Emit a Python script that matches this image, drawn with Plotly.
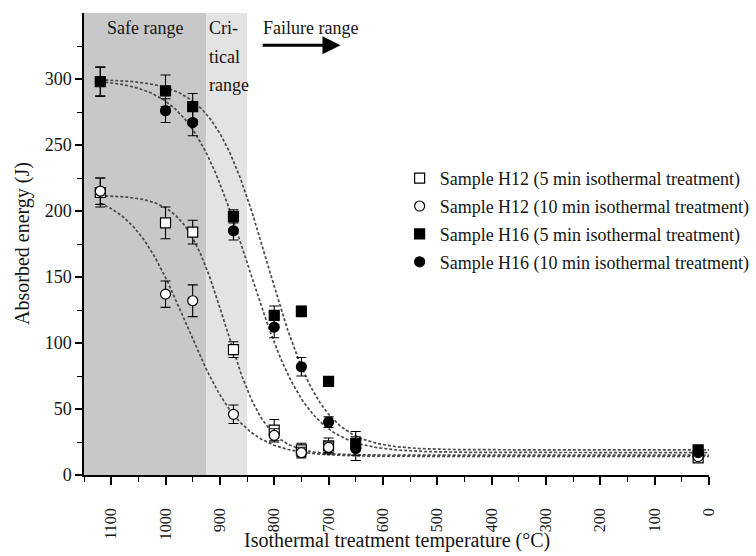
import numpy as np
import plotly.graph_objects as go

# Isothermal treatment temperatures (°C)
temps = [1120, 1000, 950, 875, 800, 750, 700, 650, 20]
temps_h12 = [1120, 1000, 950, 875, 800, 750, 700, 20]

# Absorbed energy (J) and error bars
h12_5_vals = [214, 191, 184, 95, 34, 19, 22, 13]
h12_5_err = [11, 12, 9, 6, 8, 5, 6, 2]
h12_10_vals = [215, 137, 132, 46, 30, 17, 21, 14]
h12_10_err = [10, 10, 12, 7, 5, 4, 4, 2]
h16_5_vals = [298, 291, 279, 196, 121, 124, 71, 24, 19]
h16_5_err = [11, 12, 10, 5, 7, 4, 3, 9, 2]
h16_10_vals = [298, 276, 267, 185, 112, 82, 40, 20, 17]
h16_10_err = [11, 9, 10, 7, 8, 7, 4, 9, 2]

# Boltzmann fit parameters: (upper plateau, lower plateau, centre, width)
fit_h12_5 = (212, 15, 890, 37)
fit_h12_10 = (215, 14, 962, 52)
fit_h16_5 = (300, 19, 812, 50)
fit_h16_10 = (300, 17, 848, 55)

series = [
    ("Sample H12 (5 min isothermal treatment)", temps_h12, h12_5_vals, h12_5_err, fit_h12_5, "square", "white"),
    ("Sample H12 (10 min isothermal treatment)", temps_h12, h12_10_vals, h12_10_err, fit_h12_10, "circle", "white"),
    ("Sample H16 (5 min isothermal treatment)", temps, h16_5_vals, h16_5_err, fit_h16_5, "square", "black"),
    ("Sample H16 (10 min isothermal treatment)", temps, h16_10_vals, h16_10_err, fit_h16_10, "circle", "black"),
]

FONT = "Liberation Serif, Times New Roman, serif"
TXT = "#151515"

fig = go.Figure()

# Shaded temperature ranges
fig.add_shape(type="rect", xref="x", yref="y", x0=1150, x1=925, y0=0, y1=350,
              fillcolor="#c8c8c8", line_width=0, layer="below")
fig.add_shape(type="rect", xref="x", yref="y", x0=925, x1=850, y0=0, y1=350,
              fillcolor="#e3e3e3", line_width=0, layer="below")

# Fitted curves
xf = np.linspace(1120, 0, 400)
for name, xs, ys, es, (a1, a2, x0, dx), sym, fill in series:
    yf = a2 + (a1 - a2) / (1 + np.exp((x0 - xf) / dx))
    fig.add_trace(go.Scatter(x=xf, y=yf, mode="lines", showlegend=False, hoverinfo="skip",
                             line=dict(color="#4a4a4a", width=1.7, dash="3px,2px")))

# Measured points with error bars
for i, (name, xs, ys, es, fit, sym, fill) in enumerate(series):
    fig.add_trace(go.Scatter(
        x=xs, y=ys, mode="markers", name=name, legendgroup=f"g{i}",
        marker=dict(symbol=sym, size=10, color=fill, line=dict(color="black", width=1.2)),
        error_y=dict(type="data", array=es, visible=True, color="black", thickness=1.1, width=5),
    ))

# Range labels
lab = dict(family=FONT, size=18, color=TXT)
fig.add_annotation(x=1037, y=338.6, text="Safe range", showarrow=False, font=lab)
for txt, yv in [("Cri-", 338.6), ("tical", 316.7), ("range", 295.5)]:
    fig.add_annotation(x=923, y=yv, text=txt, showarrow=False, xanchor="left", font=lab)
fig.add_annotation(x=824, y=338.6, text="Failure range", showarrow=False, xanchor="left", font=lab)
fig.add_annotation(x=678, y=325.5, ax=824, ay=325.5, xref="x", yref="y", axref="x", ayref="y",
                   text="", showarrow=True, arrowhead=2, arrowsize=1.2, arrowwidth=3,
                   arrowcolor="black")

# Axis titles
fig.add_annotation(xref="paper", yref="paper", x=0.5, y=0, yshift=-65, yanchor="middle",
                   text="Isothermal treatment temperature (°C)", showarrow=False,
                   font=dict(family=FONT, size=20, color=TXT))
fig.add_annotation(xref="paper", yref="paper", x=0, y=0.5, xshift=-62, xanchor="center",
                   text="Absorbed energy (J)", textangle=-90, showarrow=False,
                   font=dict(family=FONT, size=20, color=TXT))

fig.update_layout(
    width=756, height=556,
    margin=dict(l=84, r=47, t=13, b=81, autoexpand=False),
    paper_bgcolor="white", plot_bgcolor="white",
    font=dict(family=FONT, size=18, color=TXT),
    showlegend=True,
    legend=dict(x=0.505, y=0.682, xanchor="left", yanchor="top",
                bgcolor="rgba(0,0,0,0)", font=dict(family=FONT, size=18, color=TXT),
                tracegroupgap=1.5, itemsizing="trace"),
)

fig.update_xaxes(
    range=[1150, 0], showgrid=False, zeroline=False, automargin=False,
    showline=True, linecolor="black", linewidth=1.5,
    tickmode="array", tickvals=list(range(0, 1200, 100)),
    ticks="outside", ticklen=8, tickwidth=1.5, tickcolor="black",
    minor=dict(tickmode="array", tickvals=list(range(50, 1200, 100)),
               ticks="outside", ticklen=5, tickwidth=1.2, tickcolor="black"),
    tickangle=-90, ticklabelstandoff=17,
    tickfont=dict(family=FONT, size=16, color=TXT),
)
fig.update_yaxes(
    range=[0, 350], showgrid=False, zeroline=False, automargin=False,
    showline=True, linecolor="black", linewidth=1.5,
    tickmode="array", tickvals=list(range(0, 350, 50)),
    ticks="outside", ticklen=7, tickwidth=1.5, tickcolor="black",
    minor=dict(tickmode="array", tickvals=list(range(25, 350, 50)),
               ticks="outside", ticklen=5, tickwidth=1.2, tickcolor="black"),
    tickfont=dict(family=FONT, size=18, color=TXT),
)

fig.write_html("out.html")
